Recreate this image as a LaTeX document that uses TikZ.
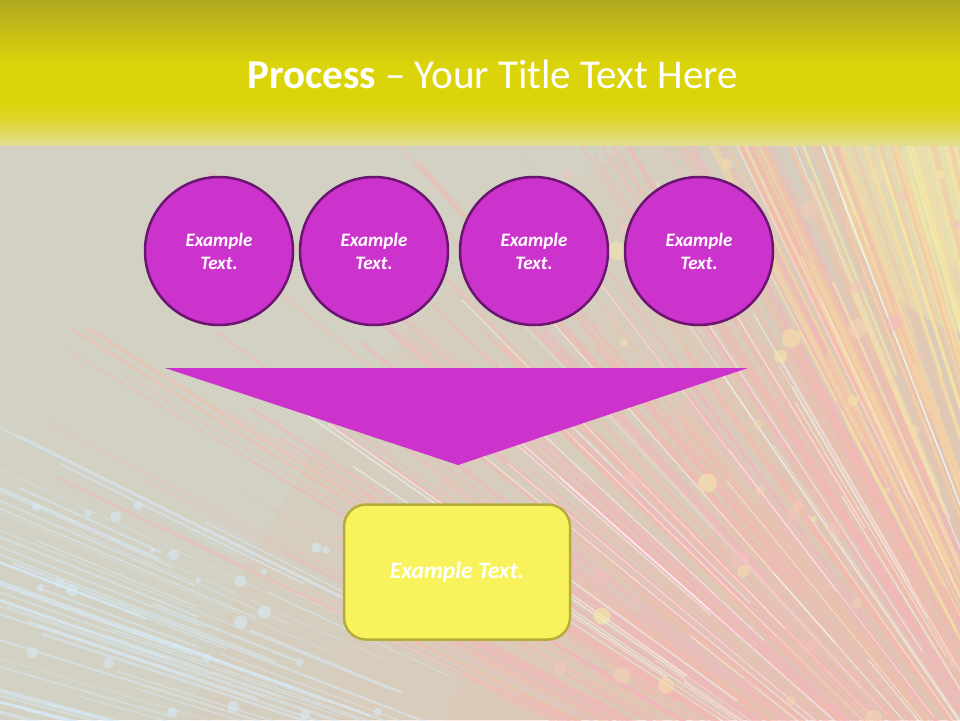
\documentclass[tikz,border=0pt]{standalone}
\usepackage{fontspec}
\setmainfont{Carlito}
\definecolor{bggray}{HTML}{D2D1C3}
\definecolor{bandtop}{HTML}{B0A820}
\definecolor{bandmid}{HTML}{DCD40A}
\definecolor{bandlow}{HTML}{DDD626}
\definecolor{bandend}{HTML}{E2DD90}
\definecolor{circfill}{HTML}{CC33CC}
\definecolor{circline}{HTML}{6A1670}
\definecolor{boxfill}{HTML}{F8F25C}
\definecolor{boxline}{HTML}{B5AD3A}
\definecolor{rayblue}{HTML}{D8ECFA}
\definecolor{raypink}{HTML}{F4B2C6}
\definecolor{raysalmon}{HTML}{F6BCA4}
\definecolor{rayyellow}{HTML}{F6F2A6}
\tikzset{
  stepcircle/.style={circle, draw=circline, line width=2.5pt, fill=circfill,
    minimum size=148pt, inner sep=0pt, text=white, align=center,
    font=\fontsize{19}{23}\selectfont\bfseries\itshape},
  resultbox/.style={rectangle, rounded corners=22pt, draw=boxline, line width=2.5pt,
    fill=boxfill, minimum width=226pt, minimum height=135pt, text=white,
    font=\fontsize{23.5}{28}\selectfont\bfseries\itshape},
  ray/.style={line cap=round},
}
\begin{document}
\begin{tikzpicture}[x=1pt,y=-1pt]
\useasboundingbox (0,0) rectangle (960,720);
\begin{scope}
\clip (0,0) rectangle (960,720);
\fill[bggray] (0,0) rectangle (960,720);
% soft washes
\begin{scope}[shift={(1150,1000)}]
\foreach \r in {1000,880,760,640,520} {
  \fill[raysalmon, opacity=0.10] (0,0) circle[radius=\r];
}
\end{scope}
\fill[rayyellow, opacity=0.35] (1010,170) circle[radius=170];
\fill[rayyellow, opacity=0.25] (1010,170) circle[radius=110];
% fibre streaks converging to the lower right
\pgfmathsetseed{11}
\begin{scope}[shift={(1150,1000)}]
\foreach \i in {1,...,90} {
  \pgfmathsetmacro\a{189+18*rnd}
  \pgfmathsetmacro\ra{750+350*rnd}
  \pgfmathsetmacro\rb{\ra+150+400*rnd}
  \pgfmathsetmacro\w{0.6+2.2*rnd}
  \draw[ray, rayblue, opacity=0.5, line width=\w pt] (\a:\ra) -- (\a:\rb);
}
\foreach \i in {1,...,260} {
  \pgfmathsetmacro\a{205+42*rnd}
  \pgfmathsetmacro\ra{150+450*rnd}
  \pgfmathsetmacro\rb{\ra+200+500*rnd}
  \pgfmathsetmacro\w{0.8+3*rnd}
  \pgfmathsetmacro\m{100*rnd}
  \draw[ray, raypink!\m!raysalmon, opacity=0.5, line width=\w pt] (\a:\ra) -- (\a:\rb);
}
\foreach \i in {1,...,60} {
  \pgfmathsetmacro\a{210+40*rnd}
  \pgfmathsetmacro\ra{150+450*rnd}
  \pgfmathsetmacro\rb{\ra+200+400*rnd}
  \pgfmathsetmacro\w{0.5+1.2*rnd}
  \draw[ray, white, opacity=0.45, line width=\w pt] (\a:\ra) -- (\a:\rb);
}
\foreach \i in {1,...,150} {
  \pgfmathsetmacro\a{242+22*rnd}
  \pgfmathsetmacro\ra{300+400*rnd}
  \pgfmathsetmacro\rb{\ra+200+600*rnd}
  \pgfmathsetmacro\w{0.8+3*rnd}
  \pgfmathsetmacro\m{100*rnd}
  \draw[ray, rayyellow!\m!raysalmon, opacity=0.55, line width=\w pt] (\a:\ra) -- (\a:\rb);
}
\end{scope}
% bokeh dots
\foreach \i in {1,...,55} {
  \pgfmathsetmacro\px{560+400*rnd}
  \pgfmathsetmacro\py{140+580*rnd}
  \pgfmathsetmacro\r{3+7*rnd}
  \pgfmathsetmacro\m{100*rnd}
  \fill[raypink!\m!rayyellow, opacity=0.5] (\px,\py) circle[radius=\r];
}
\foreach \i in {1,...,25} {
  \pgfmathsetmacro\px{20+380*rnd}
  \pgfmathsetmacro\py{500+220*rnd}
  \pgfmathsetmacro\r{2+5*rnd}
  \fill[rayblue, opacity=0.55] (\px,\py) circle[radius=\r];
}
% title band
\shade[top color=bandtop, bottom color=bandmid] (0,0) rectangle (960,65);
\fill[bandmid] (0,64.5) rectangle (960,100);
\shade[top color=bandmid, bottom color=bandlow] (0,99.5) rectangle (960,118);
\shade[top color=bandlow, bottom color=bandend] (0,117.5) rectangle (960,145);
\end{scope}

\node[anchor=base, text=white, font=\fontsize{41}{48}\selectfont, inner sep=0pt]
  (title) at (492.5,88) {\textbf{Process} – Your Title Text Here};

\node[stepcircle] (c1) at (219,251) {Example\\Text.};
\node[stepcircle] (c2) at (374,251) {Example\\Text.};
\node[stepcircle] (c3) at (534,251) {Example\\Text.};
\node[stepcircle] (c4) at (699,251) {Example\\Text.};

\coordinate (tl) at (165,368);
\coordinate (tr) at (748,368);
\coordinate (tip) at (458,465);
\fill[circfill] (tl) -- (tr) -- (tip) -- cycle;

\node[resultbox] (res) at (457,572) {Example Text.};
\end{tikzpicture}
\end{document}
